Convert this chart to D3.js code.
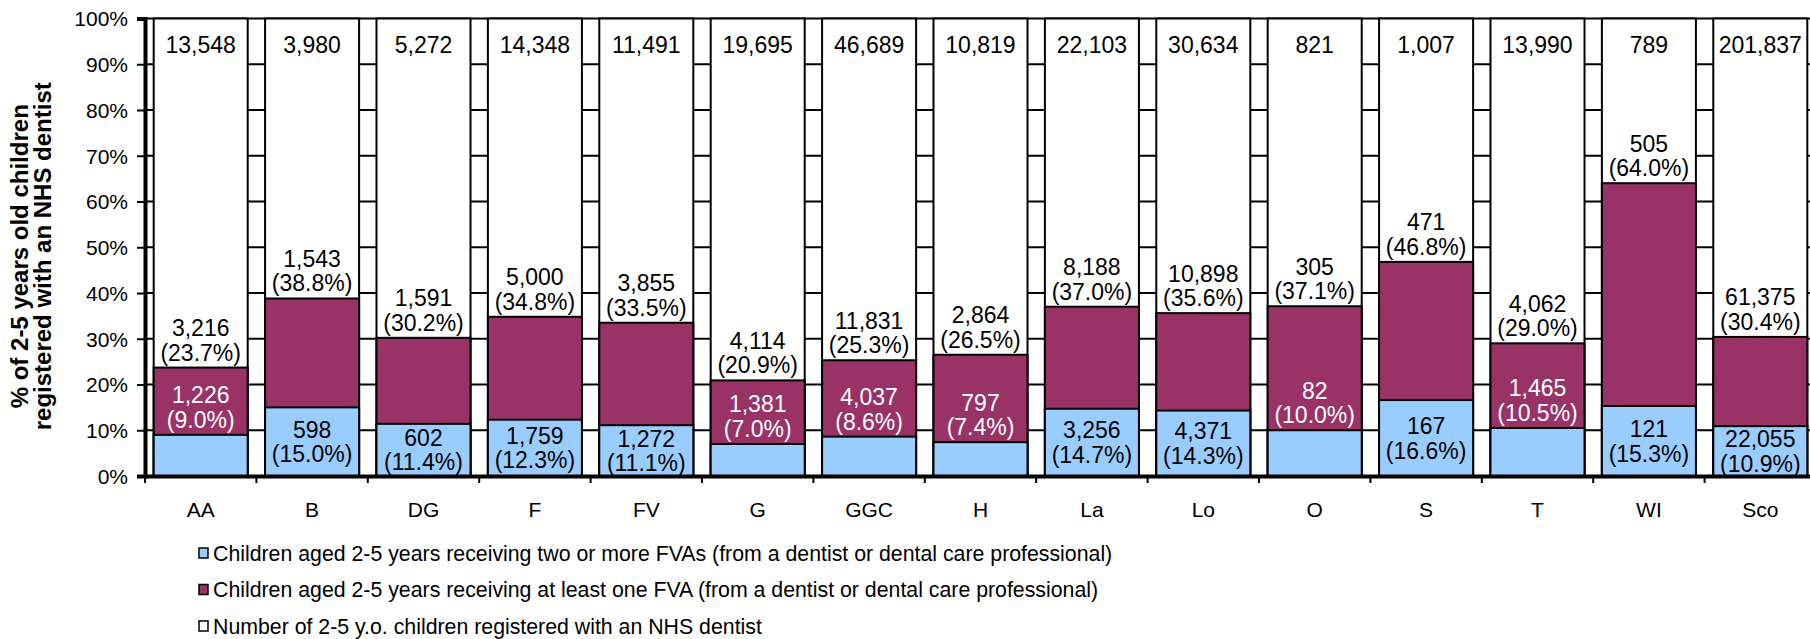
<!DOCTYPE html>
<html>
<head>
<meta charset="utf-8">
<script src="https://cdn.jsdelivr.net/npm/d3@7"></script>
<style>
  body { margin: 0; background: #fff; }
  text { font-family: "Liberation Sans", Arial, sans-serif; }
</style>
</head>
<body>
<div id="chart"></div>
<script>
// board areas
var categories = ["AA", "B", "DG", "F", "FV", "G", "GGC", "H", "La", "Lo", "O", "S", "T", "WI", "Sco"];
// number of 2-5 y.o. registered with an NHS dentist
var registered = [13548, 3980, 5272, 14348, 11491, 19695, 46689, 10819, 22103, 30634, 821, 1007, 13990, 789, 201837];
// receiving at least one FVA
var atLeastOne = [3216, 1543, 1591, 5000, 3855, 4114, 11831, 2864, 8188, 10898, 305, 471, 4062, 505, 61375];
var atLeastOnePct = [23.7, 38.8, 30.2, 34.8, 33.5, 20.9, 25.3, 26.5, 37.0, 35.6, 37.1, 46.8, 29.0, 64.0, 30.4];
// receiving two or more FVAs
var twoOrMore = [1226, 598, 602, 1759, 1272, 1381, 4037, 797, 3256, 4371, 82, 167, 1465, 121, 22055];
var twoOrMorePct = [9.0, 15.0, 11.4, 12.3, 11.1, 7.0, 8.6, 7.4, 14.7, 14.3, 10.0, 16.6, 10.5, 15.3, 10.9];

var yTicks = [0, 10, 20, 30, 40, 50, 60, 70, 80, 90, 100];
var legendLabels = [
    "Children aged 2-5 years receiving two or more FVAs (from a dentist or dental care professional)",
    "Children aged 2-5 years receiving at least one FVA (from a dentist or dental care professional)",
    "Number of 2-5 y.o. children registered with an NHS dentist"
];
var colors = ["#99CCFF", "#993366", "#FFFFFF"];

var W = 1810, H = 639;
var left = 145, step = 111.4;
var fmt = d3.format(",");

var svg = d3.select("#chart").append("svg")
    .attr("width", W)
    .attr("height", H);

var x = d3.scaleBand()
    .domain(categories)
    .range([left, left + step * categories.length])
    .paddingInner(0.156)
    .paddingOuter(0.078);

var y = d3.scaleLinear()
    .domain([0, 100])
    .range([476, 18.5]);

// gridlines (only show between the bars)
svg.append("g").selectAll("line")
    .data(yTicks.slice(1))
    .enter().append("line")
    .attr("x1", left)
    .attr("x2", left + step * categories.length)
    .attr("y1", function(d) { return y(d); })
    .attr("y2", function(d) { return y(d); })
    .style("stroke", "#000")
    .style("stroke-width", 2);

var data = categories.map(function(c, i) {
    return { cat: c, reg: registered[i], one: atLeastOne[i], onePct: atLeastOnePct[i], two: twoOrMore[i], twoPct: twoOrMorePct[i] };
});

var bars = svg.append("g").selectAll("g")
    .data(data)
    .enter().append("g");

bars.append("rect")
    .attr("x", function(d) { return x(d.cat); })
    .attr("width", x.bandwidth())
    .attr("y", y(100))
    .attr("height", y(0) - y(100))
    .style("fill", colors[2])
    .style("stroke", "#000")
    .style("stroke-width", 2);

bars.append("rect")
    .attr("x", function(d) { return x(d.cat); })
    .attr("width", x.bandwidth())
    .attr("y", function(d) { return y(d.onePct); })
    .attr("height", function(d) { return y(0) - y(d.onePct); })
    .style("fill", colors[1])
    .style("stroke", "#000")
    .style("stroke-width", 2);

bars.append("rect")
    .attr("x", function(d) { return x(d.cat); })
    .attr("width", x.bandwidth())
    .attr("y", function(d) { return y(d.twoPct); })
    .attr("height", function(d) { return y(0) - y(d.twoPct); })
    .style("fill", colors[0])
    .style("stroke", "#000")
    .style("stroke-width", 2);

// labels
function twoLines(g, cx, y1, a, b, color) {
    var t = g.append("text")
        .attr("text-anchor", "middle")
        .style("font-size", "23px")
        .style("fill", color);
    t.append("tspan").attr("x", cx).attr("y", y1).text(a);
    t.append("tspan").attr("x", cx).attr("y", y1 + 24.5).text(b);
}

bars.each(function(d) {
    var g = d3.select(this);
    var cx = x(d.cat) + x.bandwidth() / 2;

    g.append("text")
        .attr("x", cx)
        .attr("y", y(100) + 34)
        .attr("text-anchor", "middle")
        .style("font-size", "23px")
        .text(fmt(d.reg));

    twoLines(g, cx, y(d.onePct) - 31.5, fmt(d.one), "(" + d.onePct.toFixed(1) + "%)", "#000");

    var h = y(0) - y(d.twoPct);
    if (h >= 49) {
        var mid = (y(0) + y(d.twoPct)) / 2;
        twoLines(g, cx, mid - 4, fmt(d.two), "(" + d.twoPct.toFixed(1) + "%)", "#000");
    } else {
        twoLines(g, cx, y(d.twoPct) - 31.5, fmt(d.two), "(" + d.twoPct.toFixed(1) + "%)", "#fff");
    }
});

// y axis
var yAxis = svg.append("g")
    .attr("transform", "translate(" + left + ",0)")
    .call(d3.axisLeft(y).tickValues(yTicks).tickSize(8).tickPadding(9).tickFormat(function(d) { return d + "%"; }));
yAxis.select(".domain").style("stroke-width", 4);
yAxis.selectAll(".tick line").style("stroke-width", 2);
yAxis.selectAll("text").style("font-size", "21px").style("font-family", "Liberation Sans, Arial, sans-serif").attr("dy", "0.35em");

// x axis
var xAxis = svg.append("g")
    .attr("transform", "translate(0," + y(0) + ")")
    .call(d3.axisBottom(x).tickSize(0).tickPadding(26));
xAxis.select(".domain").style("stroke-width", 4);
xAxis.selectAll("text").style("font-size", "21px").style("font-family", "Liberation Sans, Arial, sans-serif");

// category boundary ticks
xAxis.selectAll(".bound")
    .data(d3.range(categories.length + 1))
    .enter().append("line")
    .attr("x1", function(i) { return left + i * x.step(); })
    .attr("x2", function(i) { return left + i * x.step(); })
    .attr("y1", 0)
    .attr("y2", 7)
    .style("stroke", "#000")
    .style("stroke-width", 2);

// y title
var title = svg.append("text")
    .attr("transform", "translate(28," + ((y(0) + y(100)) / 2 + 9) + ") rotate(-90)")
    .attr("text-anchor", "middle")
    .style("font-size", "24px")
    .style("font-weight", "bold");
title.append("tspan").attr("x", 0).attr("y", 0).text("% of 2-5 years old children");
title.append("tspan").attr("x", 0).attr("y", 23).text("registered with an NHS dentist");

// legend
var legend = svg.append("g").selectAll("g")
    .data(legendLabels)
    .enter().append("g")
    .attr("transform", function(d, i) { return "translate(199," + (553 + i * 36.5) + ")"; });

legend.append("rect")
    .attr("x", 0)
    .attr("y", -5)
    .attr("width", 9)
    .attr("height", 10)
    .style("fill", function(d, i) { return colors[i]; })
    .style("stroke", "#000")
    .style("stroke-width", 1.5);

legend.append("text")
    .attr("x", 14)
    .attr("y", 7.5)
    .style("font-size", "21.3px")
    .text(function(d) { return d; });
</script>
</body>
</html>
